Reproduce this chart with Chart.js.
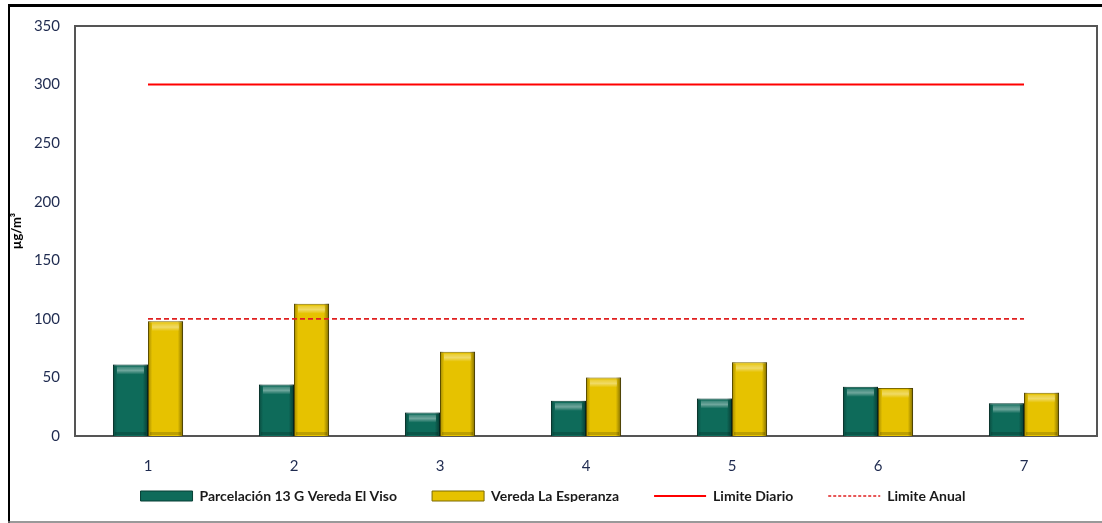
<!DOCTYPE html>
<html>
<head>
<meta charset="utf-8">
<script src="https://cdn.jsdelivr.net/npm/chart.js@4.4.1/dist/chart.umd.min.js"></script>
<style>
  html, body { margin: 0; padding: 0; background: #fff; }
  #wrap { width: 1102px; height: 523px; position: relative; }
</style>
</head>
<body>
<div id="wrap"><canvas id="myChart" width="1102" height="523"></canvas></div>
<script>
var days = ["1", "2", "3", "4", "5", "6", "7"];
var elViso = [61, 44, 20, 30, 32, 42, 28];
var esperanza = [98, 113, 72, 50, 63, 41, 37];
var limiteDiario = [300, 300, 300, 300, 300, 300, 300];
var limiteAnual = [100, 100, 100, 100, 100, 100, 100];
var yTicks = [0, 50, 100, 150, 200, 250, 300, 350];

// frame around the whole picture and the plot area
var framePlugin = {
  id: 'frame',
  afterLayout: function(chart) {
    // legend sits right under the axis labels, like in the original
    chart.legend.top -= 21;
    chart.legend.bottom -= 21;
  },
  beforeDraw: function(chart) {
    var ctx = chart.ctx;
    ctx.save();
    ctx.strokeStyle = '#000';
    ctx.lineWidth = 3;
    ctx.beginPath();
    ctx.moveTo(8, 5.5); ctx.lineTo(1102, 5.5);
    ctx.stroke();
    ctx.lineWidth = 2;
    ctx.beginPath();
    ctx.moveTo(9, 5); ctx.lineTo(9, 523);
    ctx.stroke();
    ctx.strokeStyle = '#777';
    ctx.lineWidth = 1.5;
    ctx.beginPath();
    ctx.moveTo(8, 522); ctx.lineTo(1102, 522);
    ctx.stroke();
    ctx.restore();
  },
  beforeDatasetsDraw: function(chart) {
    var a = chart.chartArea, ctx = chart.ctx;
    ctx.save();
    ctx.strokeStyle = '#555';
    ctx.lineWidth = 2;
    ctx.strokeRect(a.left, a.top, a.right - a.left, a.bottom - a.top);
    ctx.restore();
  }
};

// shading on the bars so they look bevelled like the original
var bevelPlugin = {
  id: 'bevel',
  afterDatasetDraw: function(chart, args) {
    if (args.meta.type !== 'bar') return;
    var ctx = chart.ctx;
    ctx.save();
    args.meta.data.forEach(function(bar) {
      var p = bar.getProps(['x', 'y', 'base', 'width'], true);
      var l = p.x - p.width / 2, w = p.width, t = p.y, h = p.base - p.y;
      var g = ctx.createLinearGradient(l, 0, l + w, 0);
      g.addColorStop(0, 'rgba(0,0,0,0.30)');
      g.addColorStop(0.12, 'rgba(0,0,0,0.0)');
      g.addColorStop(0.85, 'rgba(0,0,0,0.0)');
      g.addColorStop(1, 'rgba(0,0,0,0.45)');
      ctx.fillStyle = g;
      ctx.fillRect(l, t, w, h);
      var gt = ctx.createLinearGradient(0, t, 0, t + 10);
      gt.addColorStop(0, 'rgba(255,255,255,0.05)');
      gt.addColorStop(0.6, 'rgba(255,255,255,0.4)');
      gt.addColorStop(1, 'rgba(255,255,255,0.0)');
      ctx.fillStyle = gt;
      ctx.fillRect(l + 4, t + 2, w - 8, Math.min(9, h - 3));
      ctx.fillStyle = 'rgba(0,0,0,0.18)';
      ctx.fillRect(l + 2, p.base - 4, w - 4, 3);
    });
    ctx.restore();
  }
};

function buildChart() {
  var ctx = document.getElementById('myChart').getContext('2d');
  var chart = new Chart(ctx, {
    type: 'bar',
    data: {
      labels: days,
      datasets: [{
        label: "Parcelación 13 G Vereda El Viso",
        data: elViso,
        backgroundColor: '#0E6B5A',
        borderColor: '#073F35',
        borderWidth: 1,
        pointStyle: 'rect',
        order: 1
      }, {
        label: "Vereda La Esperanza",
        data: esperanza,
        backgroundColor: '#E6C200',
        borderColor: '#7D6A00',
        borderWidth: 1,
        pointStyle: 'rect',
        order: 1
      }, {
        type: 'line',
        label: "Limite Diario",
        data: limiteDiario,
        borderColor: '#FF0000',
        borderWidth: 2,
        pointRadius: 0,
        pointStyle: 'line',
        order: 0
      }, {
        type: 'line',
        label: "Limite Anual",
        data: limiteAnual,
        borderColor: '#E02020',
        borderWidth: 1.6,
        borderDash: [5, 3],
        pointRadius: 0,
        pointStyle: 'line',
        order: 0
      }]
    },
    options: {
      responsive: false,
      animation: false,
      datasets: { bar: { categoryPercentage: 0.48, barPercentage: 1 } },
      layout: { padding: { top: 26, left: 9, right: 5, bottom: 0 } },
      plugins: {
        tooltip: { enabled: false },
        legend: {
          position: 'bottom',
          maxHeight: 48,
          labels: {
            usePointStyle: true,
            pointStyleWidth: 52,
            boxHeight: 10,
            padding: 35,
            color: '#1a1a1a',
            font: { family: 'Lato', size: 14, weight: 'bold' },
            generateLabels: function(chart) {
              var items = Chart.defaults.plugins.legend.labels.generateLabels(chart);
              items.forEach(function(it) {
                var ds = chart.data.datasets[it.datasetIndex];
                if (ds.type === 'line') {
                  it.lineDash = ds.borderDash ? [3, 2] : [];
                  it.lineWidth = ds.borderWidth;
                  it.strokeStyle = ds.borderColor;
                }
              });
              return items;
            },
            sort: function(a, b) { return a.datasetIndex - b.datasetIndex; }
          }
        }
      },
      scales: {
        x: {
          grid: { display: false, drawTicks: false },
          border: { display: false },
          ticks: { padding: 21, color: '#1F2B50', font: { family: 'Lato', size: 15 } },
          afterFit: function(scale) { scale.height = 39; }
        },
        y: {
          min: 0,
          max: 350,
          afterBuildTicks: function(scale) {
            scale.ticks = yTicks.map(function(v) { return { value: v }; });
          },
          grid: { display: false, drawTicks: false },
          border: { display: false },
          ticks: { padding: 15, color: '#1F2B50', font: { family: 'Lato', size: 15 } },
          title: {
            display: true,
            text: 'µg/m³',
            color: '#000',
            padding: { top: 0, bottom: 0 },
            font: { family: 'Lato', size: 13, weight: 'bold' }
          },
          afterFit: function(scale) { scale.width = 66; }
        }
      }
    },
    plugins: [framePlugin, bevelPlugin]
  });
}

buildChart();
</script>
</body>
</html>
